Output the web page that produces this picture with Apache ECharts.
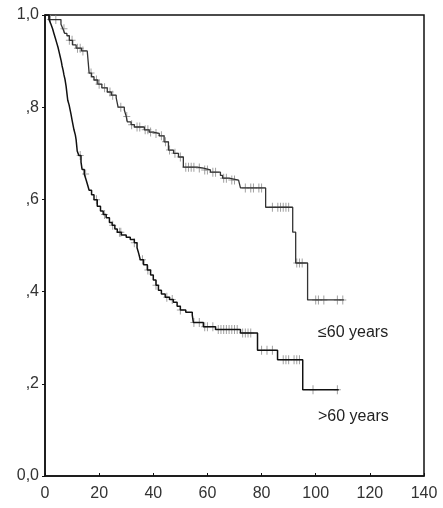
<!DOCTYPE html>
<html><head><meta charset="utf-8">
<script src="https://cdn.jsdelivr.net/npm/echarts@6/dist/echarts.min.js"></script>
<style>html,body{margin:0;padding:0;background:#fff}#c{width:443px;height:508px}</style>
</head><body><div id="c"></div>
<script>
// ≤60 years group: event times and survival after each step
const youngTimes = [0,1.5,5.9,6.6,7.3,8.1,9.0,10.2,11.5,13.5,15.6,16.0,16.3,17.2,18.1,19.5,21,23,24.5,26.3,27,29.3,30,30.4,31.8,33,36.7,38.5,40,42.2,44,45.6,47.5,49.3,51.1,56.3,58.5,61.1,64.8,65.6,68,71.5,72.2,81.5,91.5,92.6,97,110.4];
const youngSurv  = [1,0.99,0.98,0.97,0.96,0.955,0.945,0.935,0.928,0.922,0.918,0.895,0.874,0.866,0.859,0.85,0.842,0.833,0.826,0.82,0.80,0.794,0.78,0.768,0.762,0.757,0.751,0.746,0.743,0.738,0.725,0.707,0.70,0.692,0.670,0.668,0.664,0.659,0.652,0.646,0.642,0.638,0.625,0.583,0.529,0.462,0.382,0.382];
const youngCensor = [2,4,7,9,10,12,13,14,17,19,20,22,24,25,28,30.2,32,34,35,37,38,39,41,43,44.5,46,48,50,52,53,54,55,57,59,60,62,63,66,67,69,70,74,76,77,79,80,84,86,87,88,89,90,93,94,95,100,101,103,108,110];

// >60 years group
const oldTimes = [0,1.5,2.2,2.8,3.3,3.8,4.3,4.8,5.2,5.6,6.0,6.3,6.7,7.0,7.4,7.8,8.1,8.4,8.9,9.6,10.0,10.7,11.2,11.5,11.9,12.5,13.3,13.7,14.5,15.2,15.8,16.3,17.2,18.1,19.3,20.5,21.5,22.6,23.8,24.8,25.8,26.7,28.2,30,31.5,33,34,34.6,35.2,36.4,37.8,39,40,41,41.9,43,44.4,46,47.4,48.8,50,52,54.4,54.8,58.5,63,72.2,78.5,85.9,95.2,108.5];
const oldSurv  = [1,0.99,0.98,0.97,0.96,0.95,0.94,0.93,0.92,0.91,0.90,0.89,0.88,0.87,0.86,0.845,0.83,0.815,0.805,0.785,0.772,0.751,0.74,0.729,0.705,0.695,0.681,0.665,0.655,0.642,0.63,0.62,0.61,0.599,0.585,0.575,0.567,0.56,0.55,0.544,0.536,0.529,0.523,0.518,0.513,0.506,0.495,0.483,0.469,0.458,0.447,0.436,0.425,0.414,0.403,0.395,0.388,0.383,0.377,0.368,0.36,0.355,0.349,0.333,0.324,0.318,0.31,0.273,0.252,0.187,0.187];
const oldCensor = [13,15,19,22,25,27.5,28,33,36,38,41,45,47,50,55,57,59,60,62,64,65,66,67,68,69,70,71,73,74,75,76,80,82,84,88,89,90,92,93,94,99,108];

const xTicks = [0,20,40,60,80,100,120,140];
const yTickLabels = ['0,0', ',2', ',4', ',6', ',8', '1,0'];
const groupLabels = ['\u226460 years', '>60 years'];

function survAt(times, surv, t){
  let s = surv[0];
  for (let i=0;i<times.length;i++){ if (times[i] <= t) s = surv[i]; else break; }
  return s;
}
const zip = (a,b) => a.map((v,i)=>[v,b[i]]);
const cross = 'path://M3,0h1v4h3v1h-3v4h-1v-4h-3v-1h3z';

const chart = echarts.init(document.getElementById('c'), null, {renderer:'canvas'});
const FONT = 'Liberation Sans';
chart.setOption({
  animation:false,
  backgroundColor:'#fff',
  grid:{left:45,right:19,top:15,bottom:32,show:true,borderColor:'#111',borderWidth:1.5,backgroundColor:'transparent'},
  xAxis:{type:'value',min:xTicks[0],max:xTicks[xTicks.length-1],interval:20,
    axisLine:{lineStyle:{color:'#111',width:1.5}},
    axisTick:{show:true,inside:true,length:3,lineStyle:{color:'#111'}},
    splitLine:{show:false},
    axisLabel:{color:'#333',fontFamily:FONT,fontSize:16,margin:10}},
  yAxis:{type:'value',min:0,max:1,interval:0.2,
    axisLine:{show:true,lineStyle:{color:'#111',width:1.5}},
    axisTick:{show:true,length:3,lineStyle:{color:'#111'}},
    splitLine:{show:false},
    axisLabel:{color:'#333',fontFamily:FONT,fontSize:16,margin:6,
      formatter:v=>yTickLabels[Math.round(v/0.2)]}},
  series:[
    {type:'line',step:'end',data:zip(youngTimes,youngSurv),showSymbol:false,symbol:'none',
      lineStyle:{color:'#333',width:1.3}},
    {type:'line',step:'end',data:zip(oldTimes,oldSurv),showSymbol:false,symbol:'none',
      lineStyle:{color:'#111',width:1.5}},
    {type:'scatter',data:youngCensor.map(t=>[t,survAt(youngTimes,youngSurv,t)]),symbol:cross,symbolSize:[7,9],
      itemStyle:{color:'#8a8a8a'}},
    {type:'scatter',data:oldCensor.map(t=>[t,survAt(oldTimes,oldSurv,t)]),symbol:cross,symbolSize:[7,9],
      itemStyle:{color:'#8a8a8a'}}
  ],
  graphic:[
    {type:'text',left:318,top:325,style:{text:groupLabels[0],fontFamily:FONT,fontSize:16,fill:'#222'}},
    {type:'text',left:318,top:409,style:{text:groupLabels[1],fontFamily:FONT,fontSize:16,fill:'#222'}}
  ]
});
</script></body></html>
